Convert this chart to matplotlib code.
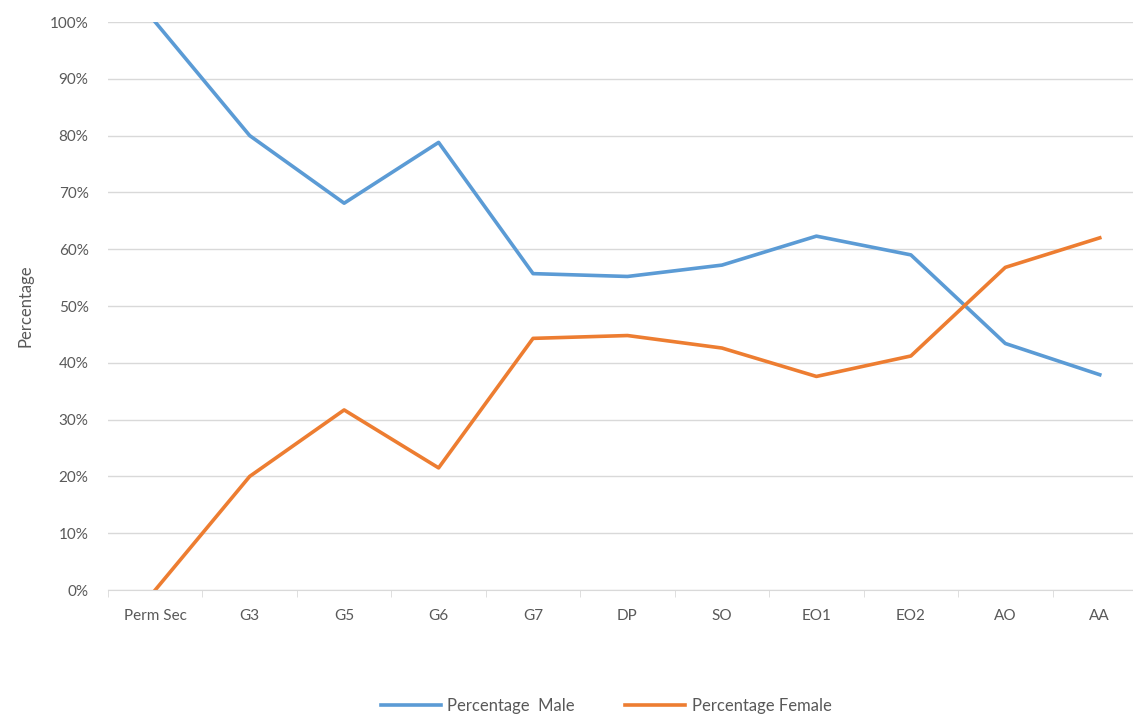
import matplotlib
matplotlib.use('agg')
import matplotlib.pyplot as plt
from matplotlib.ticker import PercentFormatter, FixedLocator
import numpy as np

grades = ['Perm Sec', 'G3', 'G5', 'G6', 'G7', 'DP', 'SO', 'EO1', 'EO2', 'AO', 'AA']
male = [100, 80, 68.1, 78.8, 55.7, 55.2, 57.2, 62.3, 59.0, 43.4, 37.9]
female = [0, 20, 31.7, 21.5, 44.3, 44.8, 42.6, 37.6, 41.2, 56.8, 62.0]

plt.rcParams['font.family'] = ['Lato', 'DejaVu Sans']
grey = '#595959'

fig = plt.figure(figsize=(11.33, 7.15), dpi=100)
ax = fig.add_axes([108 / 1133, 1 - 590 / 715, (1147 - 108) / 1133, (590 - 22) / 715])

x = np.arange(len(grades))
ax.plot(x, male, color='#5B9BD5', linewidth=2.6, label='Percentage  Male', solid_joinstyle='round')
ax.plot(x, female, color='#ED7D31', linewidth=2.6, label='Percentage Female', solid_joinstyle='round')

ax.set_xlim(-0.5, len(grades) - 0.5)
ax.set_ylim(0, 100)
ax.set_yticks(range(0, 101, 10))
ax.yaxis.set_major_formatter(PercentFormatter(decimals=0))
ax.set_xticks(x, grades)
ax.xaxis.set_minor_locator(FixedLocator(np.arange(-0.5, len(grades), 1)))

ax.grid(axis='y', color='#D9D9D9', linewidth=1)
ax.set_axisbelow(True)
for s in ['top', 'right', 'left']:
    ax.spines[s].set_visible(False)
ax.spines['bottom'].set_color('#D9D9D9')
ax.tick_params(axis='y', length=0, labelsize=11, colors=grey, pad=14)
ax.tick_params(axis='x', which='major', length=0, labelsize=11, colors=grey, pad=14)
ax.tick_params(axis='x', which='minor', length=5, color='#D9D9D9')

ax.set_ylabel('Percentage', fontsize=12, color=grey, labelpad=12)

fig.legend(loc='lower center', bbox_to_anchor=(0.535, -0.02), ncol=2, frameon=False,
           fontsize=12, labelcolor=grey, handlelength=3.6, columnspacing=3, handletextpad=0.4)

fig.savefig('out.png', dpi=100)
